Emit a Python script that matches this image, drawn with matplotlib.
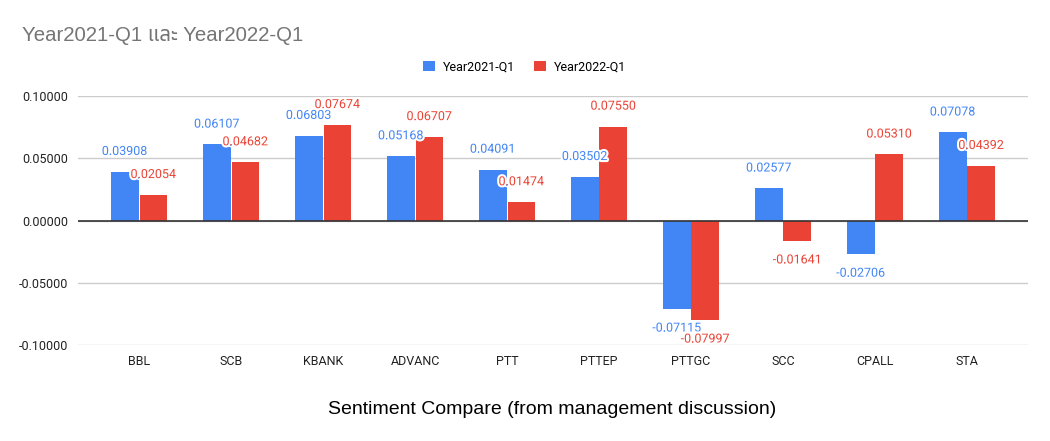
import matplotlib.pyplot as plt
import matplotlib.patheffects as pe
import numpy as np

# data
STOCKS = ["BBL", "SCB", "KBANK", "ADVANC", "PTT", "PTTEP", "PTTGC", "SCC", "CPALL", "STA"]
Y2021_Q1 = [0.03908, 0.06107, 0.06803, 0.05168, 0.04091, 0.03502, -0.07115, 0.02577, -0.02706, 0.07078]
Y2022_Q1 = [0.02054, 0.04682, 0.07674, 0.06707, 0.01474, 0.07550, -0.07997, -0.01641, 0.05310, 0.04392]
SERIES = ["Year2021-Q1", "Year2022-Q1"]
YTICKS = [-0.1, -0.05, 0.0, 0.05, 0.1]

BLUE = "#4285F4"
RED = "#EA4335"
TITLE_FONT = ["Liberation Sans", "Noto Sans Thai", "Noto Sans Thai Looped", "Noto Sans", "DejaVu Sans"]
LABEL_FONT = ["Roboto", "DejaVu Sans"]

fig = plt.figure(figsize=(10.5, 4.41), dpi=100)
ax = fig.add_axes([0.0743, 0.2177, 0.9048, 0.5646])

x = np.arange(len(STOCKS))
w = 0.30
off = 0.155
halo = [pe.withStroke(linewidth=3, foreground="white")]

for vals, sign, color, name in [(Y2021_Q1, -1, BLUE, SERIES[0]), (Y2022_Q1, 1, RED, SERIES[1])]:
    xs = x + sign * off
    ax.bar(xs, vals, width=w, color=color, label=name, zorder=3)
    for xi, v in zip(xs, vals):
        if v >= 0:
            ax.annotate(f"{v:.5f}", (xi, v), xytext=(0, 10), textcoords="offset points",
                        ha="center", va="bottom", fontsize=9, color=color,
                        family=LABEL_FONT, path_effects=halo, zorder=5)
        else:
            ax.annotate(f"{v:.5f}", (xi, v), xytext=(0, -9), textcoords="offset points",
                        ha="center", va="top", fontsize=9, color=color,
                        family=LABEL_FONT, path_effects=halo, zorder=5)

ax.set_xlim(-0.664, len(STOCKS) - 1 + 0.664)
ax.set_ylim(-0.1, 0.1)
ax.set_yticks(YTICKS)
ax.set_yticklabels([f"{t:.5f}" for t in YTICKS], family=LABEL_FONT, fontsize=9, color="#222222")
ax.set_xticks(x)
ax.set_xticklabels(STOCKS, family=LABEL_FONT, fontsize=9, color="#222222")
ax.tick_params(axis="both", length=0)
ax.tick_params(axis="y", pad=7)
ax.tick_params(axis="x", pad=7)
ax.grid(axis="y", color="#cccccc", linewidth=1, zorder=0)
ax.axhline(0, color="#333333", linewidth=1.2, zorder=4)
for s in ax.spines.values():
    s.set_visible(False)

fig.text(0.021, 0.92, "Year2021-Q1 และ Year2022-Q1", fontsize=14.7, color="#757575",
         family=TITLE_FONT, va="center", ha="left")
fig.text(0.526, 0.072, "Sentiment Compare (from management discussion)", fontsize=14,
         color="#000000", family=TITLE_FONT, va="center", ha="center")

leg = fig.legend(loc="center", bbox_to_anchor=(0.5, 0.848), ncol=2, frameon=False,
                 prop={"family": LABEL_FONT, "size": 9}, handlelength=0.9, handleheight=0.9,
                 columnspacing=1.5, handletextpad=0.7)

fig.savefig("out.png", dpi=100)
